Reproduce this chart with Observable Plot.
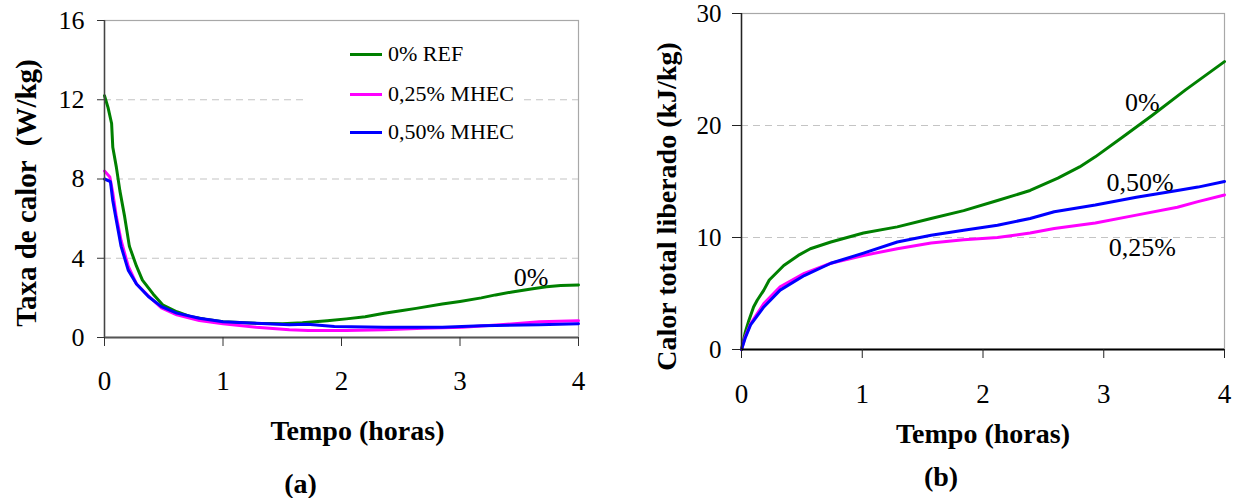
<!DOCTYPE html>
<html>
<head>
<meta charset="utf-8">
<script src="https://cdn.jsdelivr.net/npm/d3@7"></script>
<script src="https://cdn.jsdelivr.net/npm/@observablehq/plot@0.6"></script>
<style>
  body { margin: 0; background: #fff; }
  #wrap { position: relative; width: 1247px; height: 498px; font-family: "Liberation Serif", "DejaVu Serif", serif; overflow: hidden; }
  #pa { position: absolute; left: 0; top: 0; }
  #pb { position: absolute; left: 620px; top: 0; }
  #wrap svg, #wrap svg text { font-family: "Liberation Serif", "DejaVu Serif", serif !important; }
  #legend { position: absolute; left: 305px; top: 36px; width: 215px; height: 114px; background: #fff; }
  .lg-row { position: absolute; left: 0; height: 24px; display: flex; align-items: center; }
  .lg-sw { width: 32px; height: 3px; margin-left: 45px; margin-right: 6px; }
  .lg-tx { font-size: 22px; color: #000; white-space: nowrap; line-height: 24px; font-family: "Liberation Serif", "DejaVu Serif", serif; }
</style>
</head>
<body>
<div id="wrap">
  <div id="pa"></div>
  <div id="pb"></div>
  <div id="legend"></div>
</div>
<script>
// ---------- Data ----------
const seriesNames = ["0% REF", "0,25% MHEC", "0,50% MHEC"];
const seriesColors = ["#008000", "#ff00ff", "#0000ff"];

// Panel (a): heat rate (W/kg) vs time (h)
const tA_ref = [0,0.03,0.06,0.07,0.1,0.13,0.17,0.21,0.27,0.32,0.41,0.49,0.61,0.72,0.85,1.0,1.28,1.5,1.67,1.88,2.04,2.2,2.36,2.5,2.63,2.85,3.0,3.18,3.3,3.44,3.6,3.73,3.85,4.0];
const rateA_ref = [12.2,11.6,10.8,9.6,8.6,7.4,6.1,4.6,3.6,2.9,2.2,1.65,1.3,1.06,0.92,0.8,0.72,0.7,0.74,0.85,0.94,1.05,1.22,1.35,1.47,1.69,1.82,2.0,2.15,2.3,2.45,2.56,2.62,2.65];
const tA_025 = [0,0.045,0.07,0.1,0.14,0.2,0.27,0.37,0.48,0.61,0.8,1.0,1.28,1.56,1.72,2.04,2.36,2.69,3.02,3.34,3.67,4.0];
const rateA_025 = [8.4,8.1,7.3,6.1,4.9,3.6,2.7,2.1,1.5,1.14,0.86,0.69,0.52,0.39,0.35,0.35,0.39,0.47,0.52,0.64,0.8,0.85];
const tA_050 = [0,0.05,0.07,0.1,0.14,0.2,0.27,0.37,0.48,0.61,0.8,1.0,1.28,1.56,1.71,1.94,2.36,2.85,3.18,3.67,4.0];
const rateA_050 = [8.0,7.87,6.9,5.9,4.6,3.4,2.7,2.07,1.56,1.23,0.97,0.8,0.72,0.64,0.67,0.55,0.52,0.52,0.59,0.64,0.69];

// Panel (b): total heat released (kJ/kg) vs time (h)
const tB_ref = [0,0.03,0.061,0.1,0.13,0.185,0.23,0.35,0.47,0.57,0.74,1.01,1.29,1.57,1.84,2.12,2.39,2.62,2.8,2.93,3.16,3.4,3.68,4.0];
const heatB_ref = [0,1.5,2.6,3.8,4.4,5.3,6.2,7.5,8.4,9.0,9.6,10.4,10.95,11.7,12.4,13.3,14.2,15.3,16.3,17.2,19.0,20.9,23.2,25.7];
const tB_025 = [0,0.03,0.075,0.185,0.32,0.52,0.74,1.01,1.29,1.57,1.84,2.12,2.39,2.59,2.93,3.27,3.61,3.78,4.0];
const heatB_025 = [0,1.1,2.3,4.1,5.6,6.8,7.7,8.4,9.0,9.5,9.8,10.0,10.4,10.8,11.3,12.0,12.7,13.2,13.8];
const tB_050 = [0,0.03,0.075,0.185,0.32,0.52,0.74,1.01,1.29,1.57,1.84,2.12,2.39,2.59,2.93,3.27,3.61,3.78,4.0];
const heatB_050 = [0,1.0,2.2,3.8,5.3,6.6,7.7,8.6,9.6,10.2,10.65,11.1,11.7,12.3,12.9,13.6,14.2,14.5,15.0];

// Ticks
const xTicks = [0, 1, 2, 3, 4];
const yTicksA = [0, 4, 8, 12, 16];
const yTicksB = [0, 10, 20, 30];
const gridA = [4, 8, 12];
const gridB = [10, 20];

// Text
const xTitle = "Tempo (horas)";
const yTitleA = "Taxa de calor  (W/kg)";
const yTitleB = "Calor total liberado (kJ/kg)";
const capA = "(a)";
const capB = "(b)";
const annA = [{t: 3.6, v: 3.02, label: "0%"}];
const annB = [
  {t: 3.32, v: 22.0, label: "0%"},
  {t: 3.30, v: 14.9, label: "0,50%"},
  {t: 3.32, v: 9.1, label: "0,25%"}
];

// ---------- Build tables ----------
function rows(ts, vs, s) { return ts.map((t, i) => ({t, v: vs[i], s})); }
const dataA = [
  ...rows(tA_ref, rateA_ref, seriesNames[0]),
  ...rows(tA_025, rateA_025, seriesNames[1]),
  ...rows(tA_050, rateA_050, seriesNames[2])
];
const dataB = [
  ...rows(tB_ref, heatB_ref, seriesNames[0]),
  ...rows(tB_025, heatB_025, seriesNames[1]),
  ...rows(tB_050, heatB_050, seriesNames[2])
];

const FONT = "'Liberation Serif', 'DejaVu Serif', serif";
const colorScale = {domain: seriesNames, range: seriesColors};

// ---------- Panel (a) ----------
const plotA = Plot.plot({
  width: 620, height: 498,
  marginLeft: 104, marginRight: 42, marginTop: 20, marginBottom: 161,
  style: {fontFamily: FONT, background: "#fff", overflow: "visible"},
  x: {domain: [0, 4]},
  y: {domain: [0, 16]},
  color: colorScale,
  marks: [
    Plot.ruleY(gridA, {stroke: "#c4c4c4", strokeDasharray: "7,5", strokeWidth: 1.2}),
    Plot.frame({stroke: "#a8a8a8", strokeWidth: 1.2}),
    Plot.line(dataA, {x: "t", y: "v", z: "s", stroke: "s", strokeWidth: 3, curve: "linear"}),
    Plot.ruleX([0], {stroke: "#444", strokeWidth: 1.5}),
    Plot.ruleY([0], {stroke: "#555", strokeWidth: 2}),
    Plot.axisX({ticks: xTicks, tickSize: 9, tickPadding: 24, fontSize: 27, stroke: "#333", label: null, tickFormat: d => String(d)}),
    Plot.axisY({ticks: yTicksA, tickSize: 7, tickPadding: 13, fontSize: 26, stroke: "#333", label: null, tickFormat: d => String(d)}),
    Plot.text(annA, {x: "t", y: "v", text: "label", fontSize: 26, fill: "#000"}),
    Plot.text([xTitle], {text: d => d, frameAnchor: "bottom", textAnchor: "middle", lineAnchor: "bottom", dx: 16, dy: 102, fontSize: 28, fontWeight: "bold", fill: "#000"}),
    Plot.text([capA], {text: d => d, frameAnchor: "bottom", textAnchor: "middle", lineAnchor: "bottom", dx: -41, dy: 155, fontSize: 28, fontWeight: "bold", fill: "#000"}),
    Plot.text([yTitleA], {text: d => d, frameAnchor: "left", textAnchor: "middle", lineAnchor: "bottom", rotate: -90, dx: -69, dy: 14, fontSize: 29, fontWeight: "bold", fill: "#000"})
  ]
});
document.getElementById("pa").appendChild(plotA);

// ---------- Panel (b) ----------
const plotB = Plot.plot({
  width: 627, height: 498,
  marginLeft: 121, marginRight: 23, marginTop: 13, marginBottom: 149,
  style: {fontFamily: FONT, background: "#fff", overflow: "visible"},
  x: {domain: [0, 4]},
  y: {domain: [0, 30]},
  color: colorScale,
  marks: [
    Plot.ruleY(gridB, {stroke: "#c4c4c4", strokeDasharray: "7,5", strokeWidth: 1.2}),
    Plot.frame({stroke: "#a8a8a8", strokeWidth: 1.2}),
    Plot.line(dataB, {x: "t", y: "v", z: "s", stroke: "s", strokeWidth: 3, curve: "linear"}),
    Plot.ruleX([0], {stroke: "#222", strokeWidth: 1.5}),
    Plot.ruleY([0], {stroke: "#000", strokeWidth: 1.8}),
    Plot.axisX({ticks: xTicks, tickSize: 9, tickPadding: 25, fontSize: 27, stroke: "#222", label: null, tickFormat: d => String(d)}),
    Plot.axisY({ticks: yTicksB, tickSize: 9, tickPadding: 11, fontSize: 25, stroke: "#222", label: null, tickFormat: d => String(d)}),
    Plot.text(annB, {x: "t", y: "v", text: "label", fontSize: 26, fill: "#000"}),
    Plot.text([xTitle], {text: d => d, frameAnchor: "bottom", textAnchor: "middle", lineAnchor: "bottom", dx: 0, dy: 93, fontSize: 28, fontWeight: "bold", fill: "#000"}),
    Plot.text([capB], {text: d => d, frameAnchor: "bottom", textAnchor: "middle", lineAnchor: "bottom", dx: -42, dy: 136, fontSize: 28, fontWeight: "bold", fill: "#000"}),
    Plot.text([yTitleB], {text: d => d, frameAnchor: "left", textAnchor: "middle", lineAnchor: "bottom", rotate: -90, dx: -66, dy: 25, fontSize: 28, fontWeight: "bold", fill: "#000"})
  ]
});
document.getElementById("pb").appendChild(plotB);

// ---------- Legend (panel a) ----------
const legend = document.getElementById("legend");
const rowTops = [6, 46, 84];
seriesNames.forEach((name, i) => {
  const row = document.createElement("div");
  row.className = "lg-row";
  row.style.top = rowTops[i] + "px";
  const sw = document.createElement("div");
  sw.className = "lg-sw";
  sw.style.background = seriesColors[i];
  const tx = document.createElement("span");
  tx.className = "lg-tx";
  tx.textContent = name;
  row.appendChild(sw);
  row.appendChild(tx);
  legend.appendChild(row);
});
</script>
</body>
</html>
